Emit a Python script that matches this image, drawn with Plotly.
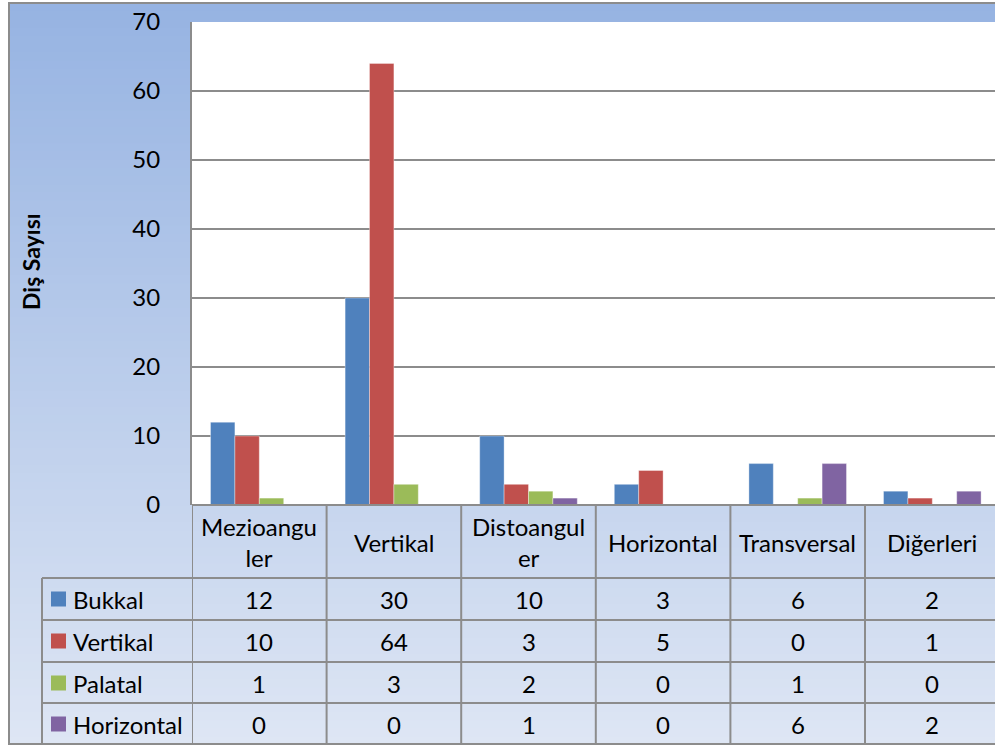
import plotly.graph_objects as go

# Tooth counts by impaction angle (columns) and position (series)
categories = ["Mezioanguler", "Vertikal", "Distoanguler", "Horizontal", "Transversal", "Diğerleri"]
header_labels = ["Mezioangu<br>ler", "Vertikal", "Distoangul<br>er", "Horizontal", "Transversal", "Diğerleri"]
series_names = ["Bukkal", "Vertikal", "Palatal", "Horizontal"]
bukkal = [12, 30, 10, 3, 6, 2]
vertikal = [10, 64, 3, 5, 0, 1]
palatal = [1, 3, 2, 0, 1, 0]
horizontal = [0, 0, 1, 0, 6, 2]
series_values = [bukkal, vertikal, palatal, horizontal]
colors = ["#4F81BD", "#C0504D", "#9BBB59", "#8064A2"]
y_ticks = [0, 10, 20, 30, 40, 50, 60, 70]

W, H = 995, 747
PL, PT, PB = 192, 22, 505          # plot area edges in pixels
PW, PHt = W - PL, PB - PT
FONT = "Lato, 'Open Sans', sans-serif"
GRID = "#8C8C8C"
TXT = 24


def px_x(px):
    return (px - PL) / PW


def px_y(py):
    return (PB - py) / PHt


fig = go.Figure()
for name, vals, col in zip(series_names, series_values, colors):
    fig.add_trace(go.Bar(
        x=list(range(len(categories))), y=vals, name=name,
        marker=dict(color=col, line=dict(color="rgba(255,255,255,0.35)", width=1)),
    ))

shapes = []
# chart-area gradient background (overlapping bands so no seams show)
top_c, bot_c = (150, 179, 226), (222, 230, 244)
y0, y1 = 3, 745
n = 90
for i in range(n):
    a = y0 + (y1 - y0) * i / n
    b = min(y1, y0 + (y1 - y0) * (i + 1) / n + 2)
    t = (i + 0.5) / n
    c = tuple(round(top_c[k] + (bot_c[k] - top_c[k]) * t) for k in range(3))
    shapes.append(dict(type="rect", xref="paper", yref="paper", layer="below",
                       x0=px_x(9), x1=px_x(1000), y0=px_y(b), y1=px_y(a),
                       fillcolor="rgb(%d,%d,%d)" % c, line=dict(width=0)))
# white plot area
shapes.append(dict(type="rect", xref="paper", yref="paper", layer="below",
                   x0=0, x1=1.01, y0=0, y1=1, fillcolor="white", line=dict(width=0)))
# outer border
shapes.append(dict(type="rect", xref="paper", yref="paper", layer="above",
                   x0=px_x(9), x1=px_x(1003), y0=px_y(744), y1=px_y(3),
                   line=dict(color=GRID, width=2), fillcolor="rgba(0,0,0,0)"))

# data table grid
row_lines = [578, 620, 662, 703, 744]
shapes.append(dict(type="line", xref="paper", yref="paper", x0=0, x1=1.02,
                   y0=0, y1=0, line=dict(color=GRID, width=2)))
for ry in row_lines:
    shapes.append(dict(type="line", xref="paper", yref="paper", x0=px_x(42), x1=1.02,
                       y0=px_y(ry), y1=px_y(ry), line=dict(color=GRID, width=2)))
shapes.append(dict(type="line", xref="paper", yref="paper", x0=px_x(42), x1=px_x(42),
                   y0=px_y(578), y1=px_y(744), line=dict(color=GRID, width=2)))
for i in range(len(categories) + 1):
    shapes.append(dict(type="line", xref="x", yref="paper", x0=i - 0.5, x1=i - 0.5,
                       y0=px_y(744), y1=0, line=dict(color=GRID, width=2)))

annotations = []
# column headers
for i, lab in enumerate(header_labels):
    annotations.append(dict(xref="x", yref="paper", x=i, y=px_y(542), text=lab,
                            showarrow=False, font=dict(family=FONT, size=TXT, color="black"),
                            xanchor="center", yanchor="middle"))
row_centers = [599, 641, 683, 724]
for r, (name, vals, col) in enumerate(zip(series_names, series_values, colors)):
    cy = row_centers[r]
    shapes.append(dict(type="rect", xref="paper", yref="paper",
                       x0=px_x(51), x1=px_x(66), y0=px_y(cy + 7.5), y1=px_y(cy - 7.5),
                       fillcolor=col, line=dict(width=0)))
    annotations.append(dict(xref="paper", yref="paper", x=px_x(71), y=px_y(cy), text=name,
                            showarrow=False, xanchor="left", yanchor="middle",
                            font=dict(family=FONT, size=TXT, color="black")))
    for i, v in enumerate(vals):
        annotations.append(dict(xref="x", yref="paper", x=i, y=px_y(cy), text=str(v),
                                showarrow=False, xanchor="center", yanchor="middle",
                                font=dict(family=FONT, size=TXT, color="black")))
# y-axis title
annotations.append(dict(xref="paper", yref="paper", x=px_x(31), y=px_y(262),
                        text="<b>Diş Sayısı</b>", textangle=-90, showarrow=False,
                        xanchor="center", yanchor="middle",
                        font=dict(family=FONT, size=23, color="black")))

fig.update_layout(
    width=W, height=H,
    margin=dict(l=PL, r=0, t=PT, b=H - PB, pad=0),
    paper_bgcolor="white", plot_bgcolor="rgba(0,0,0,0)",
    barmode="group", bargap=0.275, bargroupgap=0,
    showlegend=False,
    shapes=shapes, annotations=annotations,
    xaxis=dict(range=[-0.5, -0.5 + PW / 134.6], showticklabels=False, showgrid=False,
               zeroline=False, showline=False, ticks=""),
    yaxis=dict(range=[0, 70], tickvals=y_ticks, showgrid=True, gridcolor=GRID, gridwidth=2,
               zeroline=False, showline=True, linecolor=GRID, linewidth=2, ticks="",
               ticklabelstandoff=25,
               tickfont=dict(family=FONT, size=TXT, color="black")),
)

fig.write_html("out.html")
